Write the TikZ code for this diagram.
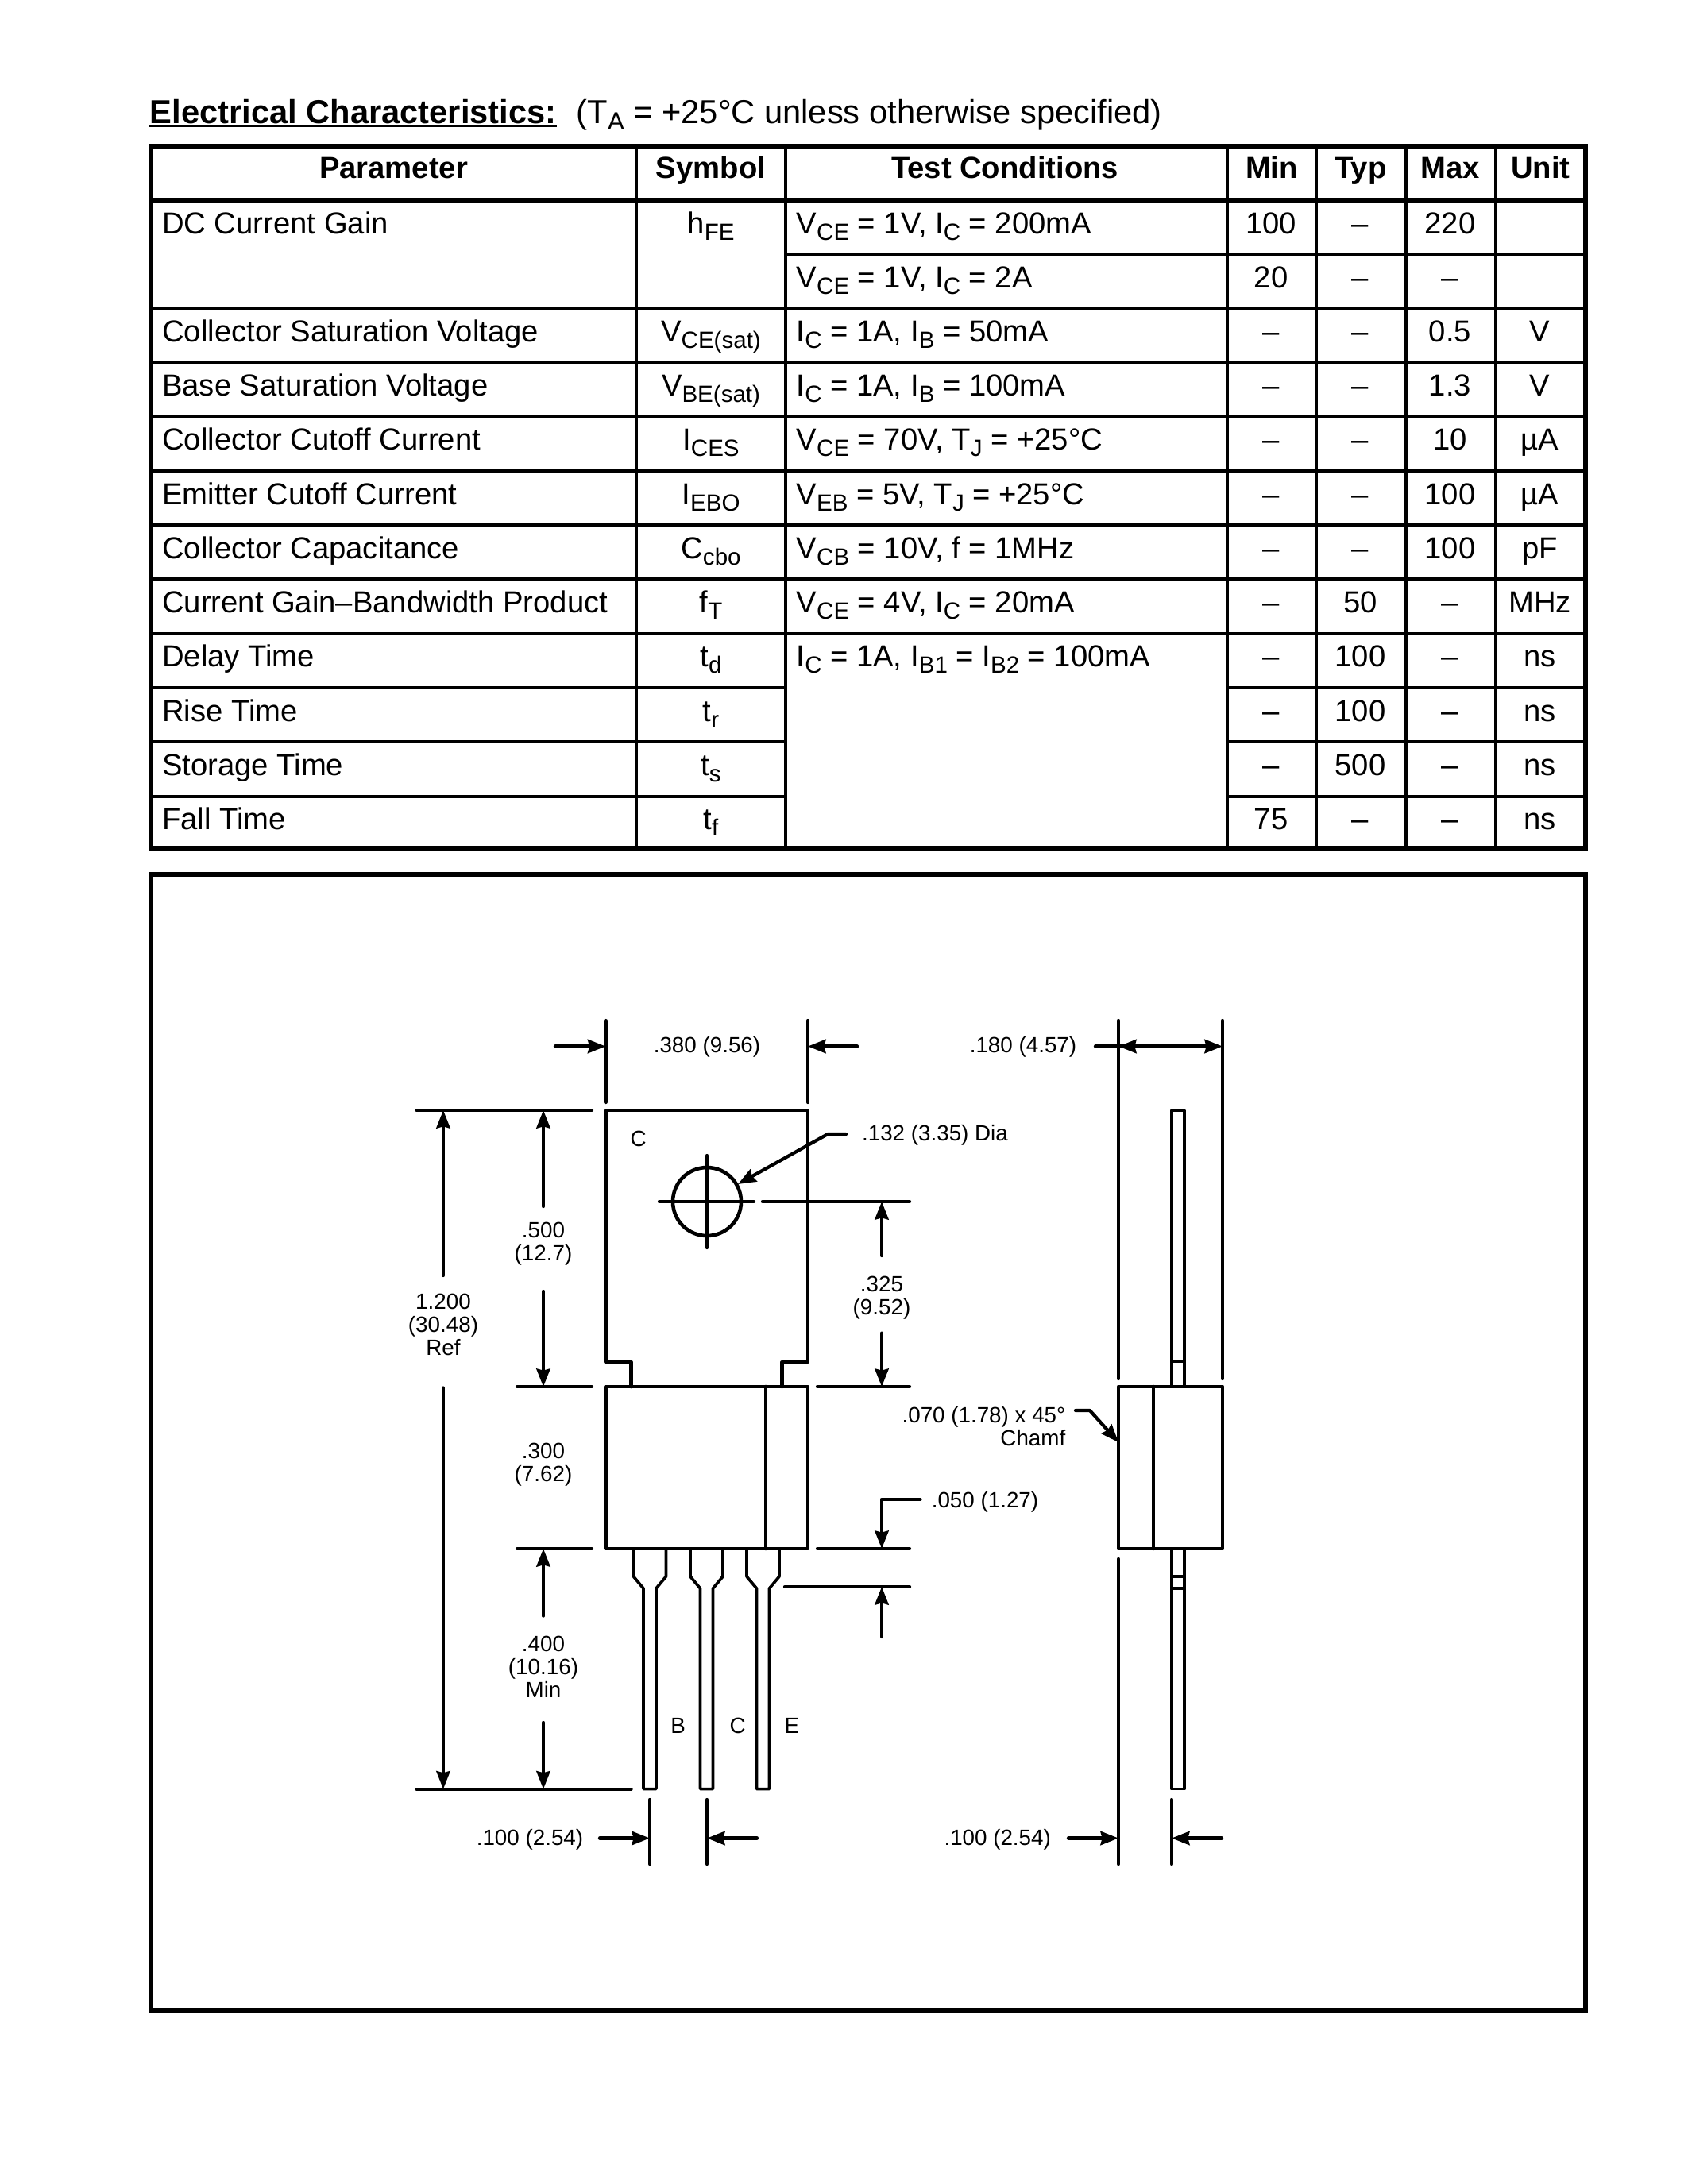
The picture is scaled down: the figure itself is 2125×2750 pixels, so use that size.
\documentclass[tikz,border=0pt]{standalone}
\usepackage{fontspec}
\setmainfont{Liberation Sans}
\usepackage{tikz}
\usetikzlibrary{arrows.meta,calc}

\newcommand{\dn}[2][8.4]{\raisebox{-2.4pt}{\fontsize{#1}{#1}\selectfont #2}}

\tikzset{
    >={Stealth[length=6.4pt,width=4.9pt,inset=0.6pt]},
    rulethick/.style={line width=1.55pt,line cap=rect},
    rulethin/.style={line width=1.05pt},
    outline/.style={line width=1.3pt,line cap=round,line join=round},
    dimline/.style={line width=1.2pt,line cap=round,line join=round},
    thinpart/.style={line width=1.05pt,line join=round},
    cell/.style={font=\fontsize{10.87}{13}\selectfont,inner sep=0pt,anchor=base},
    lcell/.style={cell,anchor=base west},
    head/.style={cell,font=\fontsize{10.87}{13}\selectfont\bfseries},
    dimtext/.style={font=\fontsize{7.9}{8.25}\selectfont,inner sep=0pt,anchor=base,align=center},
}

\begin{document}
\begin{tikzpicture}[x=0.01cm,y=-0.01cm]
    \useasboundingbox (0,0) rectangle (2125,2750);

    % heading
    \node[inner sep=0pt,anchor=base west,font=\fontsize{11.85}{14}\selectfont\bfseries] (elec) at (188,155) {Electrical Characteristics:};
    \node[inner sep=0pt,anchor=base west,font=\fontsize{11.85}{14}\selectfont] (cond) at (725,155) {(T\dn[8.9]{A} = +25°C unless otherwise specified)};
    \draw[line width=0.9pt] ([yshift=-1.1pt]elec.base west) -- ([yshift=-1.1pt]elec.base east);

    % table rules
    \foreach \y/\a/\b in {320/989/1996,388/190/1996,456/190/1996,524.5/190/1996,593/190/1996,661/190/1996,729/190/1996,798/190/1996,866/190/989,866/1545/1996,934/190/989,934/1545/1996,1003/190/989,1003/1545/1996} {
        \draw[rulethin] (\a,\y) -- (\b,\y);
    }
    \foreach \x in {801,989,1545,1657,1770,1883} {
        \draw[rulethin] (\x,184) -- (\x,1068);
    }
    \draw[rulethick] (190,184) rectangle (1996,1068);
    \draw[rulethick] (190,252) -- (1996,252);

    % table header
    \foreach \x/\l/\n in {495.5/Parameter/hpar,895/Symbol/hsym,1265/Test Conditions/hcon,1601/Min/hmin,1713/Typ/htyp,1826/Max/hmax,1939.5/Unit/huni} {
        \node[head] (\n) at (\x,224) {\l};
    }

    % parameters and symbols
    \foreach \y/\p/\s [count=\i] in {294/DC Current Gain/{h\dn{FE}},430.5/Collector Saturation Voltage/{V\dn{CE(sat)}},498.5/Base Saturation Voltage/{V\dn{BE(sat)}},566.5/Collector Cutoff Current/{I\dn{CES}},635/Emitter Cutoff Current/{I\dn{EBO}},703/Collector Capacitance/{C\dn{cbo}},771/Current Gain–Bandwidth Product/{f\dn{T}},839.5/Delay Time/{t\dn{d}},908/Rise Time/{t\dn{r}},976/Storage Time/{t\dn{s}},1044.5/Fall Time/{t\dn{f}}} {
        \node[lcell] (par\i) at (203.5,\y) {\p};
        \node[cell] (sym\i) at (895,\y) {\s};
    }

    % test conditions
    \foreach \y/\c [count=\i] in {294/{V\dn{CE} = 1V, I\dn{C} = 200mA},362.5/{V\dn{CE} = 1V, I\dn{C} = 2A},430.5/{I\dn{C} = 1A, I\dn{B} = 50mA},498.5/{I\dn{C} = 1A, I\dn{B} = 100mA},566.5/{V\dn{CE} = 70V, T\dn{J} = +25°C},635/{V\dn{EB} = 5V, T\dn{J} = +25°C},703/{V\dn{CB} = 10V, f = 1MHz},771/{V\dn{CE} = 4V, I\dn{C} = 20mA},839.5/{I\dn{C} = 1A, I\dn{B1} = I\dn{B2} = 100mA}} {
        \node[lcell] (con\i) at (1002,\y) {\c};
    }

    % limits
    \foreach \y/\a/\b/\c [count=\i] in {294/100/–/220,362.5/20/–/–,430.5/–/–/0.5,498.5/–/–/1.3,566.5/–/–/10,635/–/–/100,703/–/–/100,771/–/50/–,839.5/–/100/–,908/–/100/–,976/–/500/–,1044.5/75/–/–} {
        \node[cell] (min\i) at (1600,\y) {\a};
        \node[cell] (typ\i) at (1712.5,\y) {\b};
        \node[cell] (max\i) at (1825.5,\y) {\c};
    }

    % units
    \foreach \y/\u [count=\i] in {430.5/V,498.5/V,566.5/µA,635/µA,703/pF,771/MHz,839.5/ns,908/ns,976/ns,1044.5/ns} {
        \node[cell] (uni\i) at (1938.5,\y) {\u};
    }

    % drawing frame
    \draw[rulethick,line width=1.45pt] (190,1101) rectangle (1996,2532);

    % front view, body
    \draw[outline] (794.6,1746) -- (794.6,1715) -- (762.5,1715) -- (762.5,1398) -- (1017,1398) -- (1017,1715) -- (984.4,1715) -- (984.4,1746);
    \draw[outline] (762.5,1746) rectangle (1017,1950);
    \draw[outline] (964,1746) -- (964,1950);
    \draw[outline] (890,1513) circle (43);
    \draw[dimline] (890,1455) -- (890,1571);
    \draw[dimline] (830,1513) -- (949,1513);

    % front view, leads
    \foreach \x in {818,889.5,960.5} {
        \draw[thinpart] ({\x-20.5},1950) -- ({\x-20.5},1985) -- ({\x-8},2000) -- ({\x-8},2252.6) -- ({\x+8},2252.6) -- ({\x+8},2000) -- ({\x+20.5},1985) -- ({\x+20.5},1950);
    }

    % side view
    \draw[outline] (1408,1746) rectangle (1539,1950);
    \draw[outline] (1452,1746) -- (1452,1950);
    \draw[thinpart] (1475,1746) -- (1475,1398) -- (1491,1398) -- (1491,1746);
    \draw[thinpart] (1475,1714) -- (1491,1714);
    \draw[thinpart] (1475,1950) -- (1475,2252.6) -- (1491,2252.6) -- (1491,1950);
    \draw[thinpart] (1475,1985) -- (1491,1985);
    \draw[thinpart] (1475,2000) -- (1491,2000);

    % extension lines
    \foreach \a/\b/\c/\d in {762.5/1285/762.5/1388,1017/1285/1017/1388,1408/1285/1408/1736,1539/1285/1539/1736,1408/1963/1408/2347,818/2266/818/2347,890/2266/890/2347,1475/2266/1475/2347,524.5/1398/745/1398,651/1746/745/1746,651/1950/745/1950,524.5/2252.6/794.6/2252.6,960/1513/1145/1513,1029/1746/1145/1746,1029/1950/1145/1950,988/1998/1145/1998} {
        \draw[dimline] (\a,\b) -- (\c,\d);
    }

    % dimension arrows
    \foreach \a/\b/\c/\d in {699/1317.5/762.5/1317.5,1079/1317.5/1017/1317.5,558/1606/558/1398,558/1747.5/558/2252.6,684/1519/684/1398,684/1626/684/1746,684/2034.6/684/1950,684/2169/684/2252.6,1110/1581/1110/1513,1110/1678.6/1110/1746,1110/2061/1110/1998,755/2314.5/818/2314.5,953/2314.5/890/2314.5,1345/2314.5/1408/2314.5,1538/2314.5/1475/2314.5,1379/1317.5/1539/1317.5} {
        \draw[dimline,->] (\a,\b) -- (\c,\d);
    }
    \draw[dimline,<-] (1408,1317.5) -- (1450,1317.5);

    % leaders
    \draw[dimline,->] (1065,1428) -- (1042,1428) -- (929,1491);
    \draw[dimline,->] (1158.5,1888) -- (1110,1888) -- (1110,1950);
    \draw[dimline,->] (1354,1776) -- (1372,1776) -- (1408,1816);

    % dimension texts
    \node[dimtext] (wbody) at (890,1325) {.380 (9.56)};
    \node[dimtext] (dhole) at (1177,1436) {.132 (3.35) Dia};
    \node[dimtext] (ltab) at (684,1587) {.500\\(12.7)};
    \node[dimtext] (ltot) at (558,1706) {1.200\\(30.48)\\Ref};
    \node[dimtext] (lhole) at (1110,1655) {.325\\(9.52)};
    \node[dimtext] (lbody) at (684,1865) {.300\\(7.62)};
    \node[dimtext] (llead) at (684,2137) {.400\\(10.16)\\Min};
    \node[dimtext,anchor=base east,align=right] (chamf) at (1342,1820) {.070 (1.78) x 45°\\Chamf};
    \node[dimtext] (wstep) at (1240,1898.6) {.050 (1.27)};
    \node[dimtext] (wthick) at (1288,1325) {.180 (4.57)};
    \node[dimtext] (pitcha) at (667,2323) {.100 (2.54)};
    \node[dimtext] (pitchb) at (1255.7,2323) {.100 (2.54)};

    % pin letters
    \node[dimtext] (pintab) at (803.6,1443) {C};
    \node[dimtext] (pinb) at (853.6,2182) {B};
    \node[dimtext] (pinc) at (928.6,2182) {C};
    \node[dimtext] (pine) at (997,2182) {E};
\end{tikzpicture}
\end{document}
